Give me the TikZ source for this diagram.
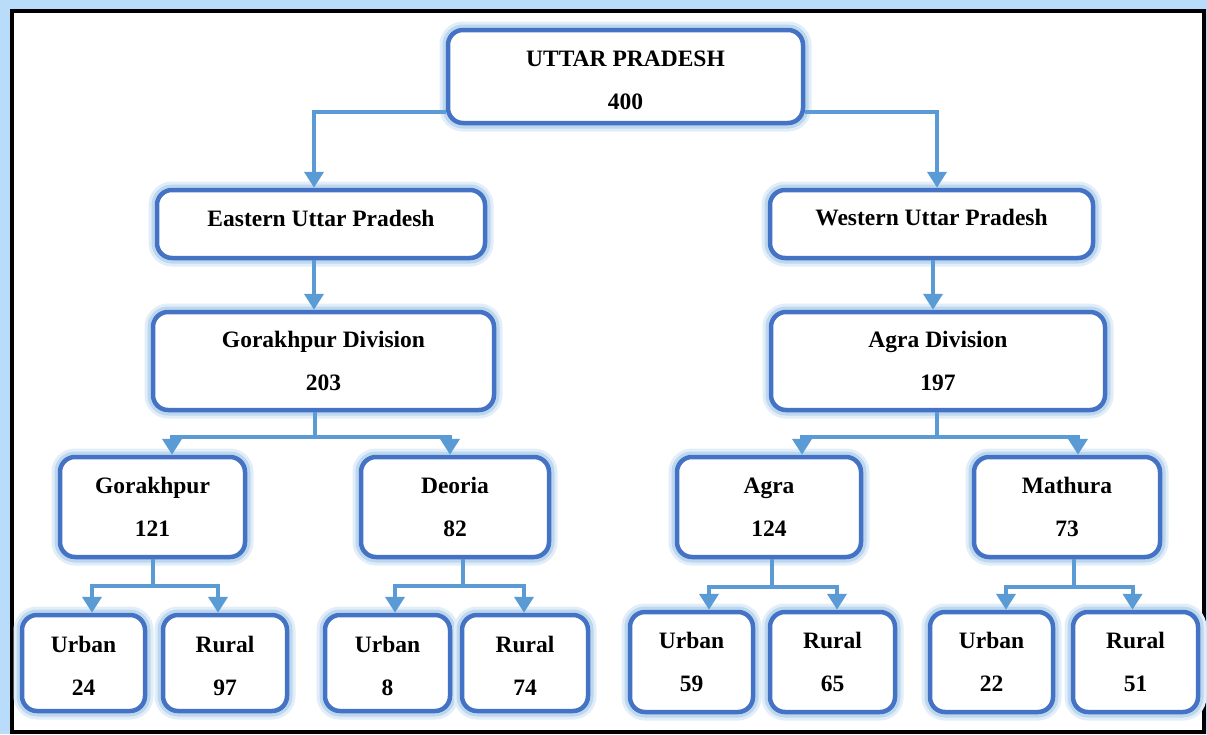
\documentclass[tikz,border=0pt]{standalone}
\usepackage{fontspec}
\setmainfont{Liberation Serif}
\usetikzlibrary{arrows.meta}
\definecolor{boxblue}{HTML}{4472C4}
\definecolor{arrblue}{HTML}{5B9BD5}
\definecolor{glowblue}{HTML}{BDD7EE}
\definecolor{glowlight}{HTML}{E1EEF9}
\definecolor{bandblue}{HTML}{B8DCFA}
\newcommand\shiftt[2]{\raisebox{#1}[\height][\depth]{#2}}
\tikzset{
  orgbox/.style={draw=boxblue, line width=4.5pt, rounded corners=15pt, fill=white,
    preaction={draw=glowlight, line width=17pt},
    preaction={draw=glowblue, line width=11pt},
    align=center, inner sep=0pt,
    font=\fontsize{23.5}{43}\selectfont\bfseries},
  conn/.style={draw=arrblue, line width=4pt, line join=miter,
    -{Triangle[width=19pt,length=16pt]}},
}
\begin{document}
\begin{tikzpicture}[x=1pt,y=-1pt]
\useasboundingbox (0,0) rectangle (1207,734);
\fill[bandblue] (0,0) rectangle (1207,734);
\fill[white] (12,11) rectangle (1204,732);
\draw[black, line width=4pt] (12,11) rectangle (1204,732);

% level 0
\node[orgbox, minimum width=355pt, minimum height=93pt] (up) at (625.5,76.5) {\shiftt{-4pt}{UTTAR PRADESH}\\\shiftt{-4pt}{400}};
% level 1
\node[orgbox, minimum width=328pt, minimum height=68pt] (east) at (321,224) {\shiftt{6pt}{Eastern Uttar Pradesh}};
\node[orgbox, minimum width=323pt, minimum height=68pt] (west) at (931.5,224) {\shiftt{6pt}{Western Uttar Pradesh}};
% level 2
\node[orgbox, minimum width=341pt, minimum height=98pt] (gd) at (323.5,361) {Gorakhpur Division\\203};
\node[orgbox, minimum width=334pt, minimum height=98pt] (ad) at (938,361) {Agra Division\\197};
% level 3
\node[orgbox, minimum width=185pt, minimum height=100pt] (gk) at (152.5,507) {Gorakhpur\\121};
\node[orgbox, minimum width=188pt, minimum height=100pt] (de) at (455,507) {Deoria\\82};
\node[orgbox, minimum width=184pt, minimum height=100pt] (ag) at (769,507) {Agra\\124};
\node[orgbox, minimum width=186pt, minimum height=100pt] (ma) at (1067,507) {Mathura\\73};
% level 4
\node[orgbox, minimum width=123pt, minimum height=96pt] (u1) at (83.5,663) {\shiftt{-3pt}{Urban}\\\shiftt{-3pt}{24}};
\node[orgbox, minimum width=124pt, minimum height=96pt] (r1) at (225,663) {\shiftt{-3pt}{Rural}\\\shiftt{-3pt}{97}};
\node[orgbox, minimum width=125pt, minimum height=96pt] (u2) at (387.5,663) {\shiftt{-3pt}{Urban}\\\shiftt{-3pt}{8}};
\node[orgbox, minimum width=126pt, minimum height=96pt] (r2) at (525,663) {\shiftt{-3pt}{Rural}\\\shiftt{-3pt}{74}};
\node[orgbox, minimum width=123pt, minimum height=100pt] (u3) at (691.5,662) {Urban\\59};
\node[orgbox, minimum width=125pt, minimum height=100pt] (r3) at (832.5,662) {Rural\\65};
\node[orgbox, minimum width=123pt, minimum height=100pt] (u4) at (991.5,662) {Urban\\22};
\node[orgbox, minimum width=125pt, minimum height=100pt] (r4) at (1135.5,662) {Rural\\51};

% connectors
\draw[conn] ([yshift=-35.5pt]up.west) -| ([xshift=-7pt]east.north);
\draw[conn] ([yshift=-35.5pt]up.east) -| ([xshift=5.5pt]west.north);
\draw[conn] ([xshift=-7pt]east.south) -- ([xshift=-7pt]east.south |- gd.north);
\draw[conn] ([xshift=1.5pt]west.south) -- ([xshift=1.5pt]west.south |- ad.north);

\draw[conn] ([xshift=-8.5pt]gd.south) -- ++(0,25) -| ([xshift=19.5pt]gk.north);
\draw[conn] ([xshift=-8.5pt]gd.south) -- ++(0,25) -| ([xshift=-5pt]de.north);
\draw[conn] ([xshift=-1pt]ad.south) -- ++(0,25) -| ([xshift=33pt]ag.north);
\draw[conn] ([xshift=-1pt]ad.south) -- ++(0,25) -| ([xshift=11pt]ma.north);

\draw[conn] (gk.south) -- ++(0,27) -| ([xshift=8.5pt]u1.north);
\draw[conn] (gk.south) -- ++(0,27) -| ([xshift=-7pt]r1.north);
\draw[conn] ([xshift=8pt]de.south) -- ++(0,27) -| ([xshift=7.5pt]u2.north);
\draw[conn] ([xshift=8pt]de.south) -- ++(0,27) -| ([xshift=-1pt]r2.north);
\draw[conn] ([xshift=2.5pt]ag.south) -- ++(0,28) -| ([xshift=17.5pt]u3.north);
\draw[conn] ([xshift=2.5pt]ag.south) -- ++(0,28) -| ([xshift=4.5pt]r3.north);
\draw[conn] ([xshift=7pt]ma.south) -- ++(0,28) -| ([xshift=14.5pt]u4.north);
\draw[conn] ([xshift=7pt]ma.south) -- ++(0,28) -| ([xshift=-3pt]r4.north);
\end{tikzpicture}
\end{document}
